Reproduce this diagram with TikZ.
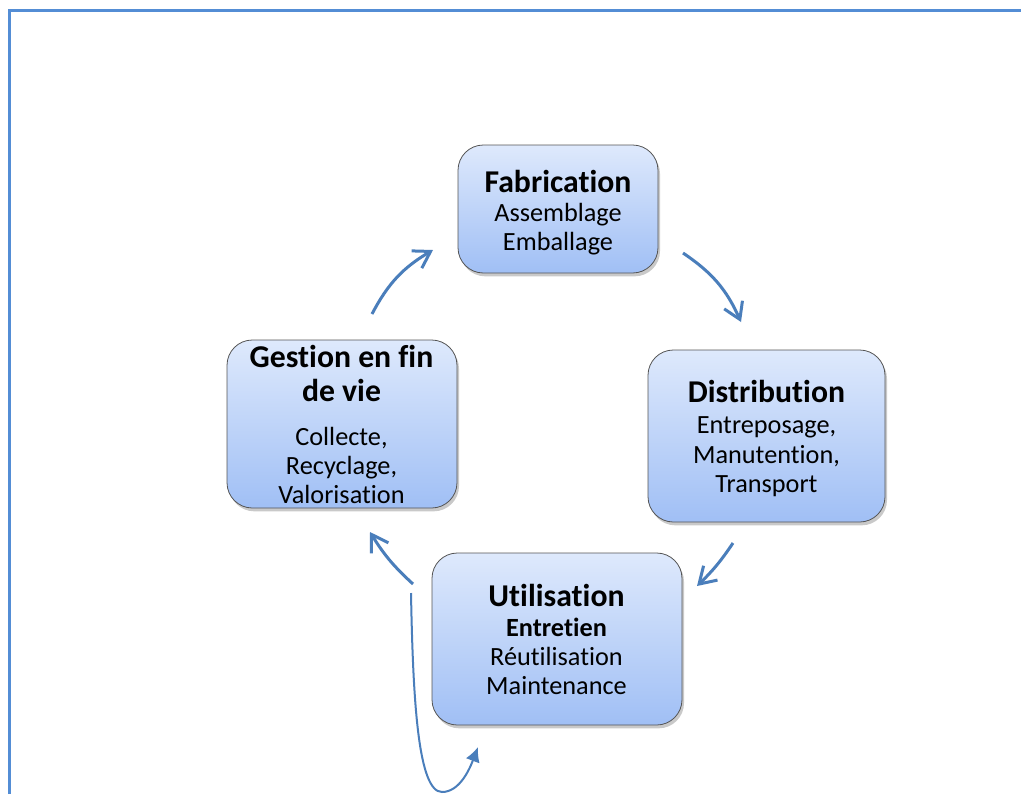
\documentclass[tikz,border=0pt]{standalone}
\usepackage{fontspec}
\setmainfont{Carlito}[Ligatures={NoCommon,NoDiscretionary,NoContextual}]
\usetikzlibrary{arrows.meta,shadows,fit}
\definecolor{framec}{RGB}{83,141,213}
\definecolor{arrowc}{RGB}{74,126,187}
\definecolor{boxtop}{RGB}{222,233,252}
\definecolor{boxbot}{RGB}{160,191,245}
\definecolor{boxline}{RGB}{85,85,85}

\begin{document}
\begin{tikzpicture}[x=0.75pt,y=-0.75pt,
  stagebox/.style={draw=boxline, line width=0.6pt, rounded corners=19pt, inner sep=0pt,
    top color=boxtop, bottom color=boxbot,
    drop shadow={shadow xshift=1.5pt, shadow yshift=-2.5pt, opacity=0.35, fill=black!60}},
  head/.style={anchor=base, font=\fontsize{23.8}{28}\selectfont\bfseries, inner sep=0pt},
  body/.style={anchor=base, font=\fontsize{19.7}{23}\selectfont, inner sep=0pt},
  bodybold/.style={body, font=\fontsize{19.7}{23}\selectfont\bfseries},
  cyclearrow/.style={draw=arrowc, line width=2.25pt,
    -{Straight Barb[length=12pt,width=15pt]}},
  looparrow/.style={draw=arrowc, line width=1.5pt, -{Latex[length=11pt,width=11pt]}}]

\useasboundingbox (0,0) rectangle (1021,794);
\fill[white] (0,0) rectangle (1021,794);

% page frame
\draw[framec, line width=2.25pt] (9,794) -- (9,10) -- (1021,10);

% the four stages
\node[stagebox, fit={(458,145) (658,273)}] (fab) {};
\node[stagebox, fit={(648,350) (885,522)}] (dist) {};
\node[stagebox, fit={(432,553) (682,725)}] (util) {};
\node[stagebox, fit={(227,340) (457,508)}] (fin) {};

% stage texts
\node[head] (fab-t) at (558,192) {Fabrication};
\node[body] (fab-1) at (558,221.5) {Assemblage};
\node[body] (fab-2) at (558,250.5) {Emballage};

\node[head] (dist-t) at (766.5,402) {Distribution};
\node[body] (dist-1) at (766.5,433.5) {Entreposage,};
\node[body] (dist-2) at (766.5,463.5) {Manutention,};
\node[body] (dist-3) at (766.5,492.5) {Transport};

\node[head] (util-t) at (556.5,606) {Utilisation};
\node[bodybold] (util-1) at (556.5,636.5) {Entretien};
\node[body] (util-2) at (556.5,665.5) {Réutilisation};
\node[body] (util-3) at (556.5,694.5) {Maintenance};

\node[head] (fin-t1) at (341.5,367) {Gestion en fin};
\node[head] (fin-t2) at (341.5,401) {de vie};
\node[body] (fin-1) at (341.5,445.5) {Collecte,};
\node[body] (fin-2) at (341.5,474.5) {Recyclage,};
\node[body] (fin-3) at (341.5,503.5) {Valorisation};

% cycle arrows
\coordinate (a1s) at (372,314);  \coordinate (a1e) at (433,250);
\coordinate (a2s) at (683,253);  \coordinate (a2e) at (741,322);
\coordinate (a3s) at (733,543);  \coordinate (a3e) at (697,586);
\coordinate (a4s) at (413,584);  \coordinate (a4e) at (370,532);
\draw[cyclearrow] (a1s) to[bend left=16] (a1e);
\draw[cyclearrow] (a2s) to[bend left=16] (a2e);
\draw[cyclearrow] (a3s) to[bend left=6] (a3e);
\draw[cyclearrow] (a4s) to[bend left=8] (a4e);

% reuse loop back into the use stage
\coordinate (l0) at (411,593);
\coordinate (l1) at (478,747);
\draw[looparrow] (l0) .. controls (413,700) and (418,792) .. (442,792)
  .. controls (460,792) and (470,768) .. (l1);
\end{tikzpicture}
\end{document}
